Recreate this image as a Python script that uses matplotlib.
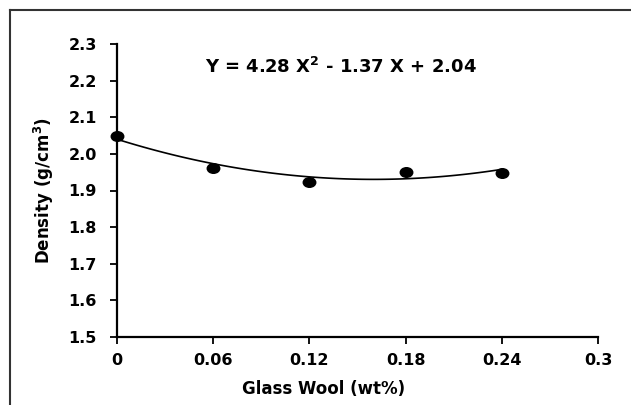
import numpy as np
import matplotlib
matplotlib.use("Agg")
import matplotlib.pyplot as plt
from matplotlib.lines import Line2D
from matplotlib.path import Path

glass_wool = [0, 0.06, 0.12, 0.18, 0.24]
density = [2.05, 1.962, 1.924, 1.951, 1.947]
coef = [4.28, -1.37, 2.04]
xticks = [0, 0.06, 0.12, 0.18, 0.24, 0.3]
xtick_labels = ["0", "0.06", "0.12", "0.18", "0.24", "0.3"]
yticks = [1.5, 1.6, 1.7, 1.8, 1.9, 2.0, 2.1, 2.2, 2.3]

plt.rcParams['font.family'] = ['DejaVu Sans']
plt.rcParams['font.weight'] = 'bold'
plt.rcParams['mathtext.default'] = 'bf'

W, H = 631, 405
L, R, T, B = 117, 598, 44, 337
fig = plt.figure(figsize=(W/100, H/100), dpi=100)
ax = fig.add_axes([L/W, 1-B/H, (R-L)/W, (B-T)/H])

# slightly wide elliptical marker like the reference
circ = Path.unit_circle()
ell = Path(circ.vertices * np.array([1.3, 1.0]), circ.codes)

xs = np.linspace(0, 0.24, 100)
ax.plot(xs, np.polyval(coef, xs), color='black', lw=1.2)
ax.plot(glass_wool, density, linestyle='none', marker=ell, color='black',
        markersize=9, clip_on=False, zorder=3)

ax.set_xlim(0, 0.3)
ax.set_ylim(1.5, 2.3)
ax.set_xticks(xticks)
ax.set_xticklabels(xtick_labels)
ax.set_yticks(yticks)
ax.set_yticklabels([f"{v:.1f}" for v in yticks])
for s in ['top', 'right']:
    ax.spines[s].set_visible(False)
for s in ['left', 'bottom']:
    ax.spines[s].set_linewidth(1.6)
ax.tick_params(direction='out', length=5, width=1.3, labelsize=11.5)
ax.tick_params(axis='x', pad=6.5)
ax.tick_params(axis='y', pad=9.5)
for lbl in ax.get_xticklabels() + ax.get_yticklabels():
    lbl.set_fontweight('bold')

ax.set_xlabel("Glass Wool (wt%)", fontsize=12, fontweight='bold')
ax.xaxis.set_label_coords((242 - L) / (R - L), (B - 389) / (B - T))
ax.xaxis.label.set_ha('left')
ax.xaxis.label.set_va('center')

ax.set_ylabel("Density (g/cm$^3$)", fontsize=12, fontweight='bold')
ax.yaxis.set_label_coords((44 - L) / (R - L), 0.5)
ax.yaxis.label.set_ha('center')
ax.yaxis.label.set_va('center')

ax.text(0.0549, 2.237, "Y = 4.28 X$^2$ - 1.37 X + 2.04", fontsize=13,
        fontweight='bold', va='center', ha='left')

# figure border
fig.add_artist(Line2D([9.5/W, 9.5/W], [0, 1-9.5/H], transform=fig.transFigure,
                      color='#333333', lw=1.5))
fig.add_artist(Line2D([9.5/W, 1], [1-9.5/H, 1-9.5/H], transform=fig.transFigure,
                      color='#333333', lw=1.5))

fig.savefig("out.png", dpi=100)
